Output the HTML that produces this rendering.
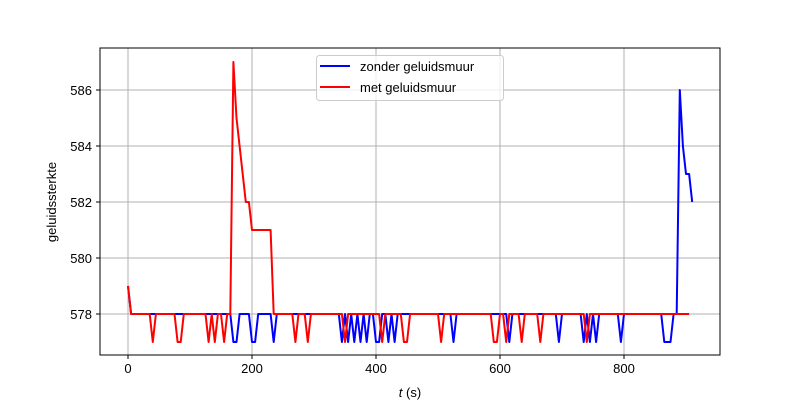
<!DOCTYPE html>
<html><head><meta charset="utf-8"><style>
body{margin:0;background:#fff;}
svg{display:block;font-family:"Liberation Sans","DejaVu Sans",sans-serif;}
</style></head><body>
<svg id="chart" width="800" height="400" viewBox="0 0 800 400" xmlns="http://www.w3.org/2000/svg"></svg>
<script>
const xTicks = [0, 200, 400, 600, 800];
const yTicks = [578, 580, 582, 584, 586];
const dt = 5;
const redValues = [
579,578,578,578,578,578,578,578,577,578,
578,578,578,578,578,578,577,577,578,578,
578,578,578,578,578,578,577,578,577,578,
578,577,578,578,587,585,584,583,582,582,
581,581,581,581,581,581,581,578,578,578,
578,578,578,578,577,578,578,578,577,578,
578,578,578,578,578,578,578,578,578,578,
577,578,578,578,578,578,578,578,578,578,
578,578,577,578,578,578,578,578,578,577,
577,578,578,578,578,578,578,578,578,578,
578,577,578,578,578,578,578,578,578,578,
578,578,578,578,578,578,578,578,577,577,
578,578,577,578,578,578,578,577,578,578,
578,578,578,577,578,578,578,578,578,578,
578,578,578,578,578,578,578,578,577,578,
578,578,578,578,578,578,578,578,578,578,
578,578,578,578,578,578,578,578,578,578,
578,578,578,578,578,578,578,578,578,578,
578,578];
const blueValues = [
579,578,578,578,578,578,578,578,578,578,
578,578,578,578,578,578,578,578,578,578,
578,578,578,578,578,578,578,578,578,578,
578,578,578,578,577,577,578,578,578,578,
577,577,578,578,578,578,578,577,578,578,
578,578,578,578,578,578,578,578,578,578,
578,578,578,578,578,578,578,578,578,577,
578,577,578,577,578,577,578,577,578,578,
577,577,578,578,577,578,577,578,578,578,
578,578,578,578,578,578,578,578,578,578,
578,578,578,578,578,577,578,578,578,578,
578,578,578,578,578,578,578,578,578,578,
578,578,578,577,578,578,578,578,578,578,
578,578,578,578,578,578,578,578,578,577,
578,578,578,578,578,578,578,577,578,577,
578,577,578,578,578,578,578,578,578,577,
578,578,578,578,578,578,578,578,578,578,
578,578,578,577,577,577,578,578,586,584,
583,583,582];

const NS = 'http://www.w3.org/2000/svg';
const svg = document.getElementById('chart');
const L = 100, R = 720, T = 48, B = 355;
function xs(t){ return 128 + t * 0.62; }
function ys(v){ return 314 - (v - 578) * 28; }
function mk(tag, attrs, parent){
  const e = document.createElementNS(NS, tag);
  for (const k in attrs) e.setAttribute(k, attrs[k]);
  (parent || svg).appendChild(e);
  return e;
}
const grid = mk('g', {});


xTicks.forEach(t => mk('line', {x1: xs(t), x2: xs(t), y1: T, y2: B, stroke: '#b0b0b0', 'stroke-width': 1}, grid));
yTicks.forEach(v => mk('line', {x1: L, x2: R, y1: ys(v), y2: ys(v), stroke: '#b0b0b0', 'stroke-width': 1}, grid));
function series(vals, color, name){
  const pts = vals.map((v, i) => xs(i * dt).toFixed(2) + ',' + ys(v).toFixed(2)).join(' ');
  const p = mk('polyline', {points: pts, fill: 'none', stroke: color, 'stroke-width': 2, 'stroke-linejoin': 'round'});
  
  
}
series(blueValues, '#0000ff', 'series-zonder-geluidsmuur');
series(redValues, '#ff0000', 'series-met-geluidsmuur');
const frame = mk('rect', {x: L, y: T, width: R - L, height: B - T, fill: 'none', stroke: '#000', 'stroke-width': 1});


xTicks.forEach(t => {
  mk('line', {x1: xs(t), x2: xs(t), y1: B, y2: B + 4, stroke: '#000'});
  const tx = mk('text', {x: xs(t), y: B + 18, 'font-size': 13, 'text-anchor': 'middle', fill: '#000'});
  tx.textContent = t;
  
  
});
yTicks.forEach(v => {
  mk('line', {x1: L - 4, x2: L, y1: ys(v), y2: ys(v), stroke: '#000'});
  const tx = mk('text', {x: L - 8, y: ys(v) + 5, 'font-size': 13, 'text-anchor': 'end', fill: '#000'});
  tx.textContent = v;
  
  
});
const xt = mk('text', {x: 410, y: 397, 'font-size': 13, 'text-anchor': 'middle', fill: '#000'});
xt.innerHTML = '<tspan font-style="italic">t</tspan> (s)';


const yt = mk('text', {x: 56, y: 202, 'font-size': 13, 'text-anchor': 'middle', fill: '#000', transform: 'rotate(-90 56 202)'});
yt.textContent = 'geluidssterkte';


const lg = mk('g', {});


mk('rect', {x: 316.5, y: 55.5, width: 187, height: 45, rx: 3, fill: '#fff', 'fill-opacity': 0.8, stroke: '#cccccc'}, lg);
mk('line', {x1: 320, x2: 350, y1: 66, y2: 66, stroke: '#0000ff', 'stroke-width': 2}, lg);
mk('line', {x1: 320, x2: 350, y1: 87, y2: 87, stroke: '#ff0000', 'stroke-width': 2}, lg);
const l1 = mk('text', {x: 360, y: 71, 'font-size': 13, fill: '#000'}, lg);
l1.textContent = 'zonder geluidsmuur';


const l2 = mk('text', {x: 360, y: 92, 'font-size': 13, fill: '#000'}, lg);
l2.textContent = 'met geluidsmuur';


</script>
</body></html>
